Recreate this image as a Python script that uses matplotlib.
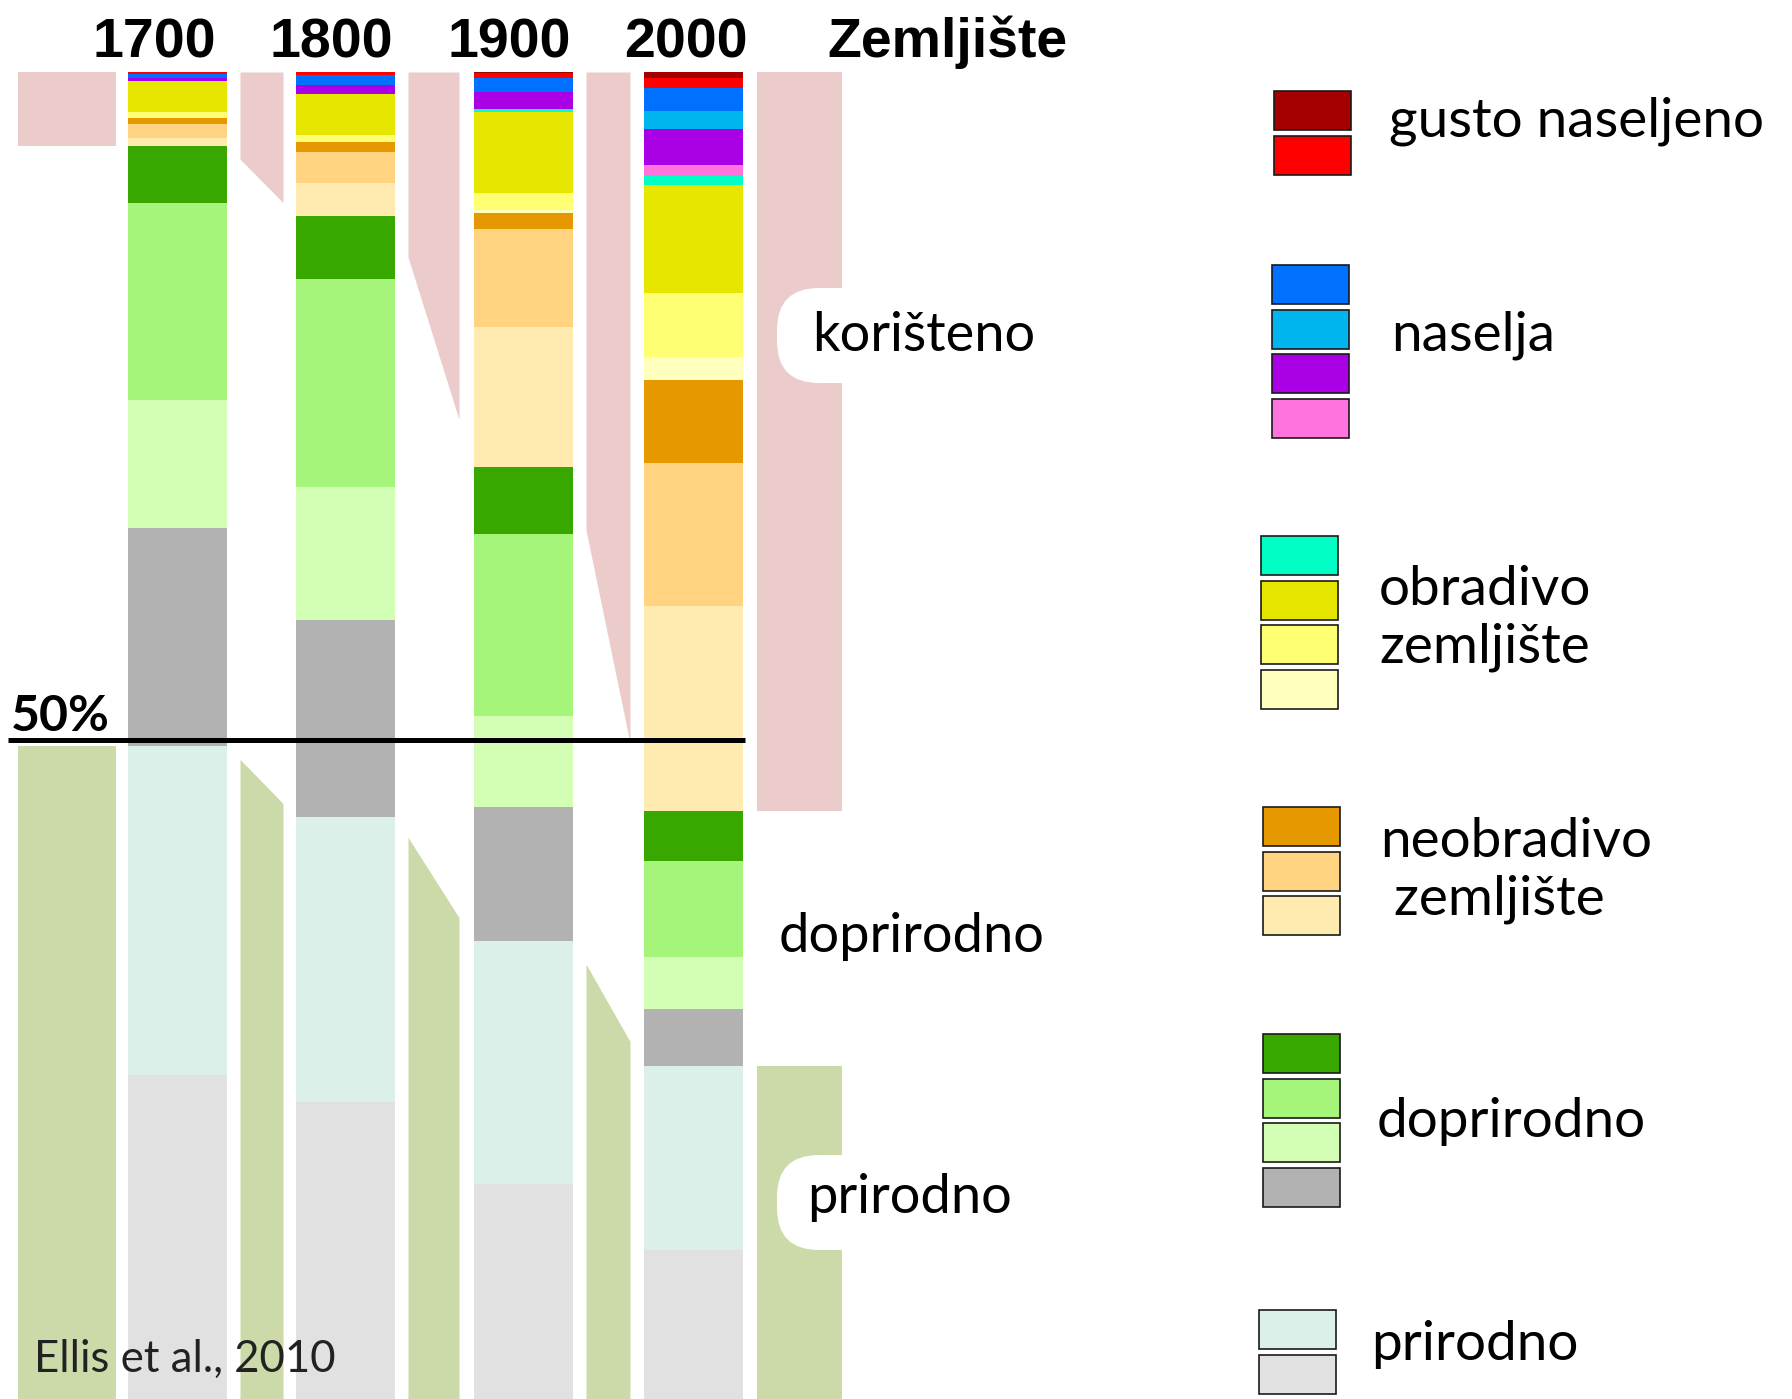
import numpy as np
import matplotlib.pyplot as plt
from matplotlib.patches import Rectangle, FancyBboxPatch

# ----------------------------------------------------------------------------
# Data: share of ice-free land (%) per class, top of bar to bottom
# ----------------------------------------------------------------------------
years = ["1700", "1800", "1900", "2000"]

class_colors = ["#A50000", "#FF0000",                          # gusto naseljeno
                "#0070FF", "#00B4EE", "#A900E6", "#FF73DF",     # naselja
                "#00FFC5", "#E6E600", "#FFFF73", "#FFFFBE",     # obradivo
                "#E69800", "#FFD37F", "#FFEBAF",                # neobradivo
                "#38A800", "#A5F57A", "#D3FFB4", "#B2B2B2",     # doprirodno
                "#DAF0E8", "#E1E1E1"]                           # prirodno

share_1700 = [0.0, 0.15, 0.30, 0.0, 0.22, 0.0, 0.0, 2.32, 0.45, 0.0,
              0.45, 1.05, 0.60, 4.27, 14.76, 9.59, 16.33, 24.64, 24.87]
share_1800 = [0.0, 0.22, 0.75, 0.0, 0.67, 0.0, 0.0, 3.07, 0.52, 0.0,
              0.75, 2.32, 2.47, 4.72, 15.58, 9.96, 14.76, 21.35, 22.86]
share_1900 = [0.10, 0.37, 1.05, 0.0, 1.27, 0.0, 0.22, 6.07, 1.27, 0.22,
              1.20, 7.34, 10.49, 5.02, 13.63, 6.82, 10.04, 18.20, 16.69]
share_2000 = [0.45, 0.75, 1.72, 1.35, 2.70, 0.82, 0.67, 8.09, 4.79, 1.72,
              6.22, 10.71, 15.36, 3.75, 7.19, 3.90, 4.27, 13.78, 11.76]

N_USED = 13      # first 13 classes = used land
N_NATURAL = 2    # last 2 classes = natural

legend_groups = [("gusto naseljeno", 2), ("naselja", 4),
                 ("obradivo\nzemljište", 4), ("neobradivo\n zemljište", 3),
                 ("doprirodno", 4), ("prirodno", 2)]

# ----------------------------------------------------------------------------
# Layout (pixels of a 1792x1399 canvas)
# ----------------------------------------------------------------------------
W, H = 1792, 1399
BAR_X = [177.5, 345.5, 523.5, 693.5]
BAR_W = 99
GAPS = [(18, 116), (240, 283), (408, 459), (586, 630), (757, 842)]
PINK = "#EBCCCB"
OLIVE = "#CBDAA8"

fig = plt.figure(figsize=(W / 100, H / 100), dpi=100)
ax = fig.add_axes([0, 0, 1, 1])
ax.set_xlim(0, W)
# 100% at y=72px, 50% at y=739px
px_per_pct = (739.5 - 72) / 50
ax.set_ylim(100 - (H - 72) / px_per_pct, 100 + 72 / px_per_pct)
ax.axis("off")

shares = np.array([share_1700, share_1800, share_1900, share_2000])

# stacked bars, top down
top = np.full(len(years), 100.0)
for k, col in enumerate(class_colors):
    h = shares[:, k]
    ax.bar(BAR_X, h, width=BAR_W, bottom=top - h, color=col, linewidth=0)
    top = top - h

used = shares[:, :N_USED].sum(axis=1)
natural = shares[:, -N_NATURAL:].sum(axis=1)

# bands between bars, interpolated from bar edges
edge_x, edge_used, edge_nat = [], [], []
for bx, u, n in zip(BAR_X, used, natural):
    edge_x += [bx - BAR_W / 2, bx + BAR_W / 2]
    edge_used += [u, u]
    edge_nat += [n, n]
for x0, x1 in GAPS:
    xs = np.array([x0, x1])
    u = np.interp(xs, edge_x, edge_used)
    n = np.interp(xs, edge_x, edge_nat)
    ax.fill_between(xs, 100 - u, 100, color=PINK, linewidth=0)
    ax.fill_between(xs, 0, n, color=OLIVE, linewidth=0)

ax.hlines(50, 8, 745, color="black", linewidth=3.6)

# ----------------------------------------------------------------------------
# Overlay in pixel coords: labels, legend
# ----------------------------------------------------------------------------
ov = fig.add_axes([0, 0, 1, 1])
ov.set_xlim(0, W)
ov.set_ylim(H, 0)
ov.axis("off")
ov.patch.set_alpha(0)

for y0 in (288, 1155):
    ov.add_patch(FancyBboxPatch((777, y0), 260, 95,
                                boxstyle="round,pad=0,rounding_size=42",
                                fc="white", ec="none"))

LBL = dict(family="Lato", fontsize=39, color="black", va="baseline")
ov.text(812, 351, "korišteno", **LBL)
ov.text(779, 952, "doprirodno", **LBL)
ov.text(807, 1213, "prirodno", **LBL)

ov.text(11, 731, "50%", family="Lato", fontweight="bold", fontsize=36,
        va="baseline")
ov.text(34, 1372, "Ellis et al., 2010", family="Lato", fontsize=31.5,
        color="#222222", va="baseline")

for cx, yr in zip([154, 331, 509, 686], years):
    ov.text(cx, 57, yr, family="Liberation Sans", fontweight="bold",
            fontsize=40, ha="center", va="baseline")
ov.text(947, 57, "Zemljište", family="Liberation Sans", fontweight="bold",
        fontsize=40, ha="center", va="baseline")

# legend
group_box = [(1274, 91), (1272, 265), (1261, 536), (1263, 807),
             (1263, 1034), (1259, 1310)]
group_text = [(1389, 137), (1391, 350), (1379, 605), (1380, 857),
              (1377, 1137), (1371, 1360)]
LINE_STEP = 58
k = 0
for (name, cnt), (bx, by), (tx, ty) in zip(legend_groups, group_box, group_text):
    for i in range(cnt):
        ov.add_patch(Rectangle((bx, by + i * 44.6), 77, 39,
                               fc=class_colors[k], ec="#1a1a1a", lw=1.2))
        k += 1
    for j, line in enumerate(name.split("\n")):
        ov.text(tx, ty + j * LINE_STEP, line, family="Lato", fontsize=39.5,
                va="baseline")

fig.savefig("out.png", dpi=100)
